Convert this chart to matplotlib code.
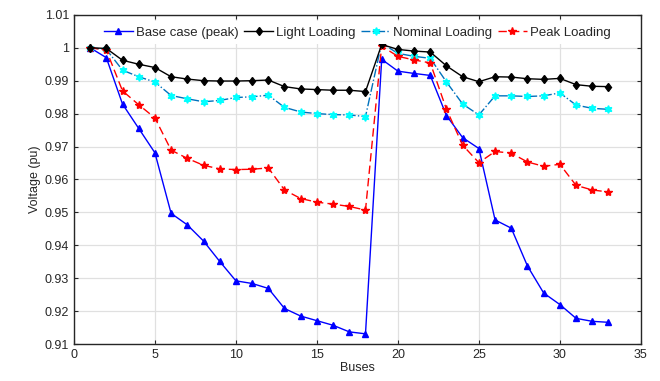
import matplotlib
matplotlib.use("Agg")
import matplotlib.pyplot as plt
import numpy as np

buses = list(range(1, 34))
base_case = [1.0, 0.9970, 0.9829, 0.9755, 0.9681, 0.9497, 0.9462, 0.9413, 0.9351, 0.9292,
             0.9284, 0.9269, 0.9208, 0.9185, 0.9171, 0.9157, 0.9137, 0.9131, 0.9965, 0.9929,
             0.9922, 0.9916, 0.9794, 0.9727, 0.9694, 0.9477, 0.9452, 0.9337, 0.9255, 0.9220,
             0.9178, 0.9169, 0.9166]
light = [1.0, 0.9998, 0.9962, 0.9950, 0.9940, 0.9912, 0.9905, 0.9900, 0.9899, 0.9899,
         0.9900, 0.9902, 0.9882, 0.9875, 0.9873, 0.9871, 0.9871, 0.9867, 1.0010, 0.9995,
         0.9990, 0.9987, 0.9945, 0.9912, 0.9897, 0.9912, 0.9911, 0.9906, 0.9904, 0.9907,
         0.9888, 0.9883, 0.9882]
nominal = [1.0, 0.9995, 0.9932, 0.9912, 0.9896, 0.9855, 0.9845, 0.9836, 0.9840, 0.9849,
           0.9851, 0.9856, 0.9819, 0.9805, 0.9800, 0.9797, 0.9796, 0.9791, 1.0014, 0.9983,
           0.9974, 0.9968, 0.9896, 0.9829, 0.9796, 0.9854, 0.9854, 0.9852, 0.9854, 0.9863,
           0.9826, 0.9816, 0.9813]
peak = [1.0, 0.9993, 0.9869, 0.9827, 0.9787, 0.9689, 0.9664, 0.9643, 0.9632, 0.9630,
        0.9631, 0.9635, 0.9568, 0.9542, 0.9531, 0.9525, 0.9518, 0.9507, 1.0005, 0.9974,
        0.9963, 0.9954, 0.9813, 0.9704, 0.9651, 0.9685, 0.9680, 0.9653, 0.9640, 0.9646,
        0.9582, 0.9568, 0.9562]

plt.rcParams['font.family'] = ['Liberation Sans', 'DejaVu Sans']
fig = plt.figure(figsize=(6.6, 3.81), dpi=100)
ax = fig.add_axes([0.112, 0.097, 0.859, 0.864])

ax.plot(buses, base_case, color='blue', ls='-', lw=1.0, marker='^', ms=3.8,
        mfc='blue', mec='blue', label='Base case (peak)', zorder=3)
ax.plot(buses, light, color='black', ls='-', lw=1.0, marker='d', ms=4.5,
        mfc='black', mec='black', label='Light Loading', zorder=4)
ax.plot(buses, nominal, color='#0072BD', ls='-.', lw=1.0, marker=(6, 1, 0), ms=5.5,
        mfc='cyan', mec='cyan', label='Nominal Loading', zorder=3)
ax.plot(buses, peak, color='red', ls=(0, (6, 3)), lw=1.0, marker='*', ms=6,
        mfc='red', mec='red', label='Peak Loading', zorder=3)

ax.set_xlim(0, 35)
ax.set_ylim(0.91, 1.01)
ax.set_xticks(np.arange(0, 36, 5))
ax.set_yticks(np.arange(0.91, 1.0101, 0.01))
ax.set_yticklabels(['0.91', '0.92', '0.93', '0.94', '0.95', '0.96', '0.97', '0.98', '0.99', '1', '1.01'])
ax.grid(True, color='#e0e0e0', lw=0.9)
ax.set_axisbelow(True)
ax.tick_params(direction='in', top=True, right=True, labelsize=9, colors='#262626',
               length=3, width=0.8)
for s in ax.spines.values():
    s.set_color('#262626')
    s.set_linewidth(1.0)
ax.set_xlabel('Buses', fontsize=9, color='#262626', labelpad=1)
ax.set_ylabel('Voltage (pu)', fontsize=9, color='#262626', labelpad=3)

leg = ax.legend(loc='upper center', bbox_to_anchor=(0.5, 1.0), ncol=4, fontsize=9.5,
                frameon=True, framealpha=1.0, edgecolor='none', facecolor='white',
                handlelength=2.2, columnspacing=0.4, handletextpad=0.25,
                borderpad=0.4, borderaxespad=0.5)
for t in leg.get_texts():
    t.set_color('#262626')

fig.savefig('out.png', dpi=100)
